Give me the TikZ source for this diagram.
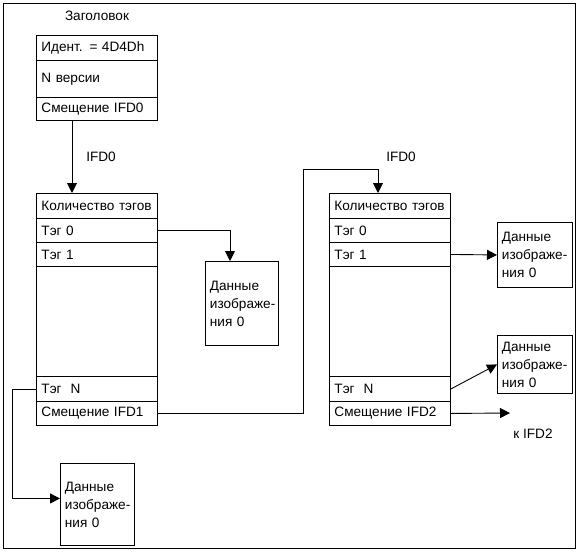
\documentclass[tikz,border=0pt]{standalone}
\usepackage{fontspec}
\setmainfont{Liberation Sans}
\usetikzlibrary{arrows.meta}
\begin{document}
\begin{tikzpicture}[x=1pt,y=-1pt,line width=0.9pt,
    font=\fontsize{13.6}{18}\selectfont,
    cell/.style={draw,anchor=north west,text width=111pt,inner xsep=5pt,
      inner ysep=0pt,align=left},
    data/.style={draw,anchor=north west,text width=64pt,inner xsep=4.5pt,
      inner ysep=0pt,align=left},
    arr/.style={-{Triangle[length=10pt,width=10pt]}}]
  \useasboundingbox (0,0) rectangle (578,552);
  \draw (3,3) rectangle (575,548);
  % header
  \node (title) at (97,16) {Заголовок};
  \node[cell,minimum height=25pt] (hid) at (36,35) {Идент. = 4D4Dh};
  \node[cell,minimum height=37pt] (hver) at (36,60) {N версии};
  \node[cell,minimum height=23pt] (hoff) at (36,97) {Смещение IFD0};
  % IFD0
  \node[cell,minimum height=25pt] (acount) at (36,193) {Количество тэгов};
  \node[cell,minimum height=24pt] (atag0) at (36,218) {Тэг 0};
  \node[cell,minimum height=24pt] (atag1) at (36,242) {Тэг 1};
  \node[cell,minimum height=110pt] (agap) at (36,266) {};
  \node[cell,minimum height=25pt] (atagN) at (36,376) {Тэг\ \ N};
  \node[cell,minimum height=24pt] (aoff) at (36,401) {Смещение IFD1};
  % IFD1
  \node[cell,minimum height=25pt] (bcount) at (329,193) {Количество тэгов};
  \node[cell,minimum height=24pt] (btag0) at (329,218) {Тэг 0};
  \node[cell,minimum height=24pt] (btag1) at (329,242) {Тэг 1};
  \node[cell,minimum height=110pt] (bgap) at (329,266) {};
  \node[cell,minimum height=25pt] (btagN) at (329,376) {Тэг\ \ N};
  \node[cell,minimum height=24pt] (boff) at (329,401) {Смещение IFD2};
  % image data
  \node[data,minimum height=84pt] (dataA) at (205,261) {Данные\\\mbox{изображе-}\\ния 0};
  \node[data,minimum height=82pt,text width=65pt] (dataC) at (60,463) {Данные\\\mbox{изображе-}\\ния 0};
  \node[data,minimum height=65pt,text width=66pt] (dataB) at (497,222) {Данные\\\mbox{изображе-}\\ния 0};
  \node[data,minimum height=58pt,text width=66pt] (dataD) at (497,335) {Данные\\\mbox{изображе-}\\ния 0};
  % labels
  \node (lbl0) at (101,157) {IFD0};
  \node (lbl1) at (401,157) {IFD0};
  \node (lbl2) at (533,434) {к IFD2};
  \coordinate (bend1) at (303,169);
  \coordinate (toIFD2) at (510,413);
  % links
  \draw[arr] ([xshift=36pt]hoff.south west) -- ([xshift=36pt]acount.north west);
  \draw[arr] (atag0.east) -| ([xshift=25pt]dataA.north west);
  \draw[arr] (atagN.west) -- ++(-24,0) |- ([yshift=6pt]dataC.west);
  \draw[arr] (aoff.east) -| (bend1) -| ([xshift=49pt]bcount.north west);
  \draw[arr] (btag1.east) -- (dataB.west);
  \draw[arr] (btagN.east) -- (dataD.west);
  \draw[arr] (boff.east) -- (toIFD2);
\end{tikzpicture}
\end{document}
